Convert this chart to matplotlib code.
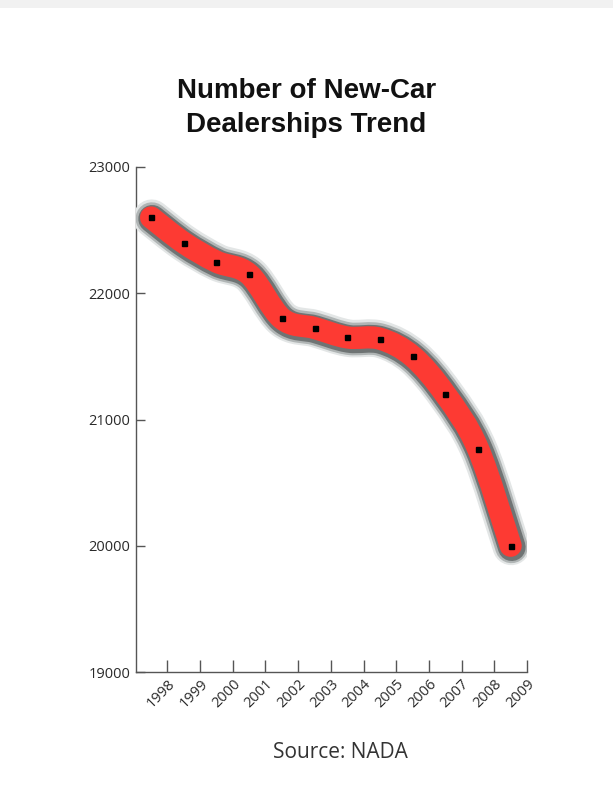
import numpy as np
import matplotlib
matplotlib.use("Agg")
import matplotlib.pyplot as plt
import matplotlib.patheffects as pe
from matplotlib.path import Path
from matplotlib.patches import PathPatch, Rectangle

years = ["1998", "1999", "2000", "2001", "2002", "2003", "2004", "2005", "2006", "2007", "2008", "2009"]
dealers = [22600, 22400, 22250, 22150, 21800, 21725, 21650, 21640, 21500, 21200, 20770, 20000]
yticks = [19000, 20000, 21000, 22000, 23000]

fig = plt.figure(figsize=(6.13, 7.97), dpi=100)
fig.patch.set_facecolor("white")
fig.patches.append(Rectangle((0, 0.99), 1, 0.01, transform=fig.transFigure,
                             facecolor="#f1f1f1", edgecolor="none", zorder=0))

ax = fig.add_axes([0.2219, 0.1568, 0.6378, 0.6337])
x = np.arange(len(years), dtype=float)
y = np.array(dealers, dtype=float)

# smooth path through the points (Catmull-Rom -> cubic Bezier)
verts = [(x[0], y[0])]
codes = [Path.MOVETO]
n = len(x)
for i in range(n - 1):
    p0 = np.array([x[max(i - 1, 0)], y[max(i - 1, 0)]])
    p1 = np.array([x[i], y[i]])
    p2 = np.array([x[i + 1], y[i + 1]])
    p3 = np.array([x[min(i + 2, n - 1)], y[min(i + 2, n - 1)]])
    c1 = p1 + (p2 - p0) / 6.0
    c2 = p2 - (p3 - p1) / 6.0
    verts += [tuple(c1), tuple(c2), tuple(p2)]
    codes += [Path.CURVE4] * 3
path = Path(verts, codes)

patch = PathPatch(path, facecolor="none", edgecolor="#fd3a33", linewidth=16,
                  capstyle="round", joinstyle="round", zorder=3)
patch.set_path_effects([
    pe.Stroke(linewidth=27, foreground="#e3e6e6", capstyle="round", offset=(0.5, -0.5)),
    pe.Stroke(linewidth=23.5, foreground="#b0b5b5", capstyle="round", offset=(0.6, -0.8)),
    pe.Stroke(linewidth=20, foreground="#6f7474", capstyle="round", offset=(0.8, -1.0)),
    pe.Normal(),
])
ax.add_patch(patch)

ax.plot(x, y, linestyle="none", marker="s", markersize=3.6, color="black", zorder=4)

ax.set_xlim(-0.46, 11.5)
ax.set_ylim(19000, 23000)
ax.set_yticks(yticks)
ax.set_yticklabels([str(v) for v in yticks])
ax.set_xticks(x + 0.5)
ax.set_xticklabels(years, rotation=45, ha="right", va="top", rotation_mode="anchor")

for s in ["top", "right"]:
    ax.spines[s].set_visible(False)
for s in ["left", "bottom"]:
    ax.spines[s].set_color("#555555")
    ax.spines[s].set_linewidth(1.0)

ax.tick_params(axis="y", direction="in", length=6.5, width=1.0, color="#555555",
               labelsize=10.5, labelcolor="#2a2a2a", pad=4)
ax.tick_params(axis="x", direction="in", length=9, width=1.0, color="#555555",
               labelsize=10.5, labelcolor="#2a2a2a", pad=3)
for lab in ax.get_xticklabels() + ax.get_yticklabels():
    lab.set_fontfamily("Open Sans")

fig.text(0.5, 0.865, "Number of New-Car\nDealerships Trend", ha="center", va="center",
         fontsize=20, fontweight="bold", family="Liberation Sans", color="#111111",
         linespacing=1.4)
fig.text(0.555, 0.056, "Source: NADA", ha="center", va="center", fontsize=15,
         family="Open Sans", color="#333333")

fig.savefig("out.png", dpi=100, facecolor="white")
